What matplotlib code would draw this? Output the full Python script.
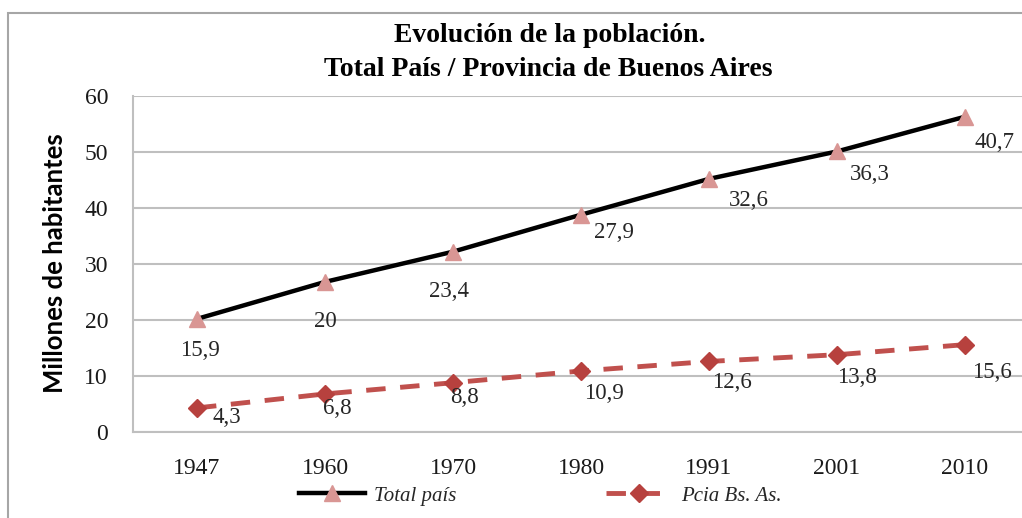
import numpy as np
import matplotlib
matplotlib.use("Agg")
import matplotlib.pyplot as plt
from matplotlib.patches import Rectangle

years = ["1947", "1960", "1970", "1980", "1991", "2001", "2010"]
total_pais = [15.9, 20, 23.4, 27.9, 32.6, 36.3, 40.7]
pcia_bsas = [4.3, 6.8, 8.8, 10.9, 12.6, 13.8, 15.6]
yticks = [0, 10, 20, 30, 40, 50, 60]

# label offsets (pixels)
tot_off = [(3, -32), (0, -40), (-4, -40), (33, -18), (40, -22), (33, -23), (29, -26)]
pcia_off = [(30, -10), (12, -15), (11, -15), (23, -23), (23, -21), (20, -23), (27, -28)]

serif = ["Liberation Serif", "DejaVu Serif"]

fig = plt.figure(figsize=(10.22, 5.18), dpi=100)
fig.patches.append(Rectangle((8 / 1022, -1), 2, 1 + (1 - 13 / 518), transform=fig.transFigure,
                             fill=False, edgecolor="#a6a6a6", linewidth=1.5, clip_on=False))

ax = fig.add_axes([133 / 1022, 1 - 432 / 518, 896 / 1022, 336 / 518])
x = np.arange(len(years))
stacked = np.add(total_pais, pcia_bsas)

ax.plot(x, stacked, color="black", linewidth=3.2, marker="^", markersize=12,
        markerfacecolor="#d99694", markeredgecolor="#d99694", label="Total país", zorder=3)
ax.plot(x, pcia_bsas, color="#c0504d", linewidth=3.5, linestyle=(0, (4, 3)), marker="D",
        markersize=9, markerfacecolor="#b7413e", markeredgecolor="#b7413e",
        label="Pcia Bs. As.", zorder=3)

for i, (v, s) in enumerate(zip(total_pais, stacked)):
    ax.annotate(f"{v:g}".replace(".", ","), (x[i], s), xytext=tot_off[i], textcoords="offset pixels",
                ha="center", va="center", fontsize=16.5, family=serif, color="#262626")
for i, v in enumerate(pcia_bsas):
    ax.annotate(f"{v:g}".replace(".", ","), (x[i], v), xytext=pcia_off[i], textcoords="offset pixels",
                ha="center", va="center", fontsize=16.5, family=serif, color="#262626")

ax.set_xlim(-0.5, len(years) - 0.5)
ax.set_ylim(0, 60)
ax.set_yticks(yticks)
ax.set_xticks(x)
ax.set_xticklabels(years)
ax.tick_params(axis="both", length=0, labelsize=17, colors="#1a1a1a")
ax.tick_params(axis="x", pad=19)
ax.tick_params(axis="y", pad=18)
for lab in ax.get_xticklabels() + ax.get_yticklabels():
    lab.set_family(serif)
ax.grid(axis="y", color="#bfbfbf", linewidth=1.5)
ax.set_axisbelow(True)
for sp in ["top", "right"]:
    ax.spines[sp].set_visible(False)
ax.spines["left"].set_color("#bfbfbf")
ax.spines["bottom"].set_color("#bfbfbf")
ax.spines["left"].set_linewidth(1.5)
ax.spines["bottom"].set_linewidth(1.5)

fig.text(55 / 1022, 1 - 263 / 518, "Millones de habitantes", rotation=90, ha="center", va="center",
         fontsize=18.5, fontweight="bold", family=["Lato", "DejaVu Sans"], color="black")

fig.text(550 / 1022, 1 - 35 / 518, "Evolución de la población.", ha="center", va="center",
         fontsize=20, fontweight="bold", family=serif, color="black")
fig.text(548 / 1022, 1 - 69 / 518, "Total País / Provincia de Buenos Aires", ha="center", va="center",
         fontsize=20, fontweight="bold", family=serif, color="black")

leg = fig.legend(loc="center", bbox_to_anchor=(540 / 1022, 1 - 496 / 518), ncol=2, frameon=False,
                 numpoints=1, handlelength=3.2, columnspacing=7.2, handletextpad=0.4,
                 prop={"family": serif, "style": "italic", "size": 15})
for t in leg.get_texts():
    t.set_color("#262626")

fig.savefig("out.png", dpi=100)
